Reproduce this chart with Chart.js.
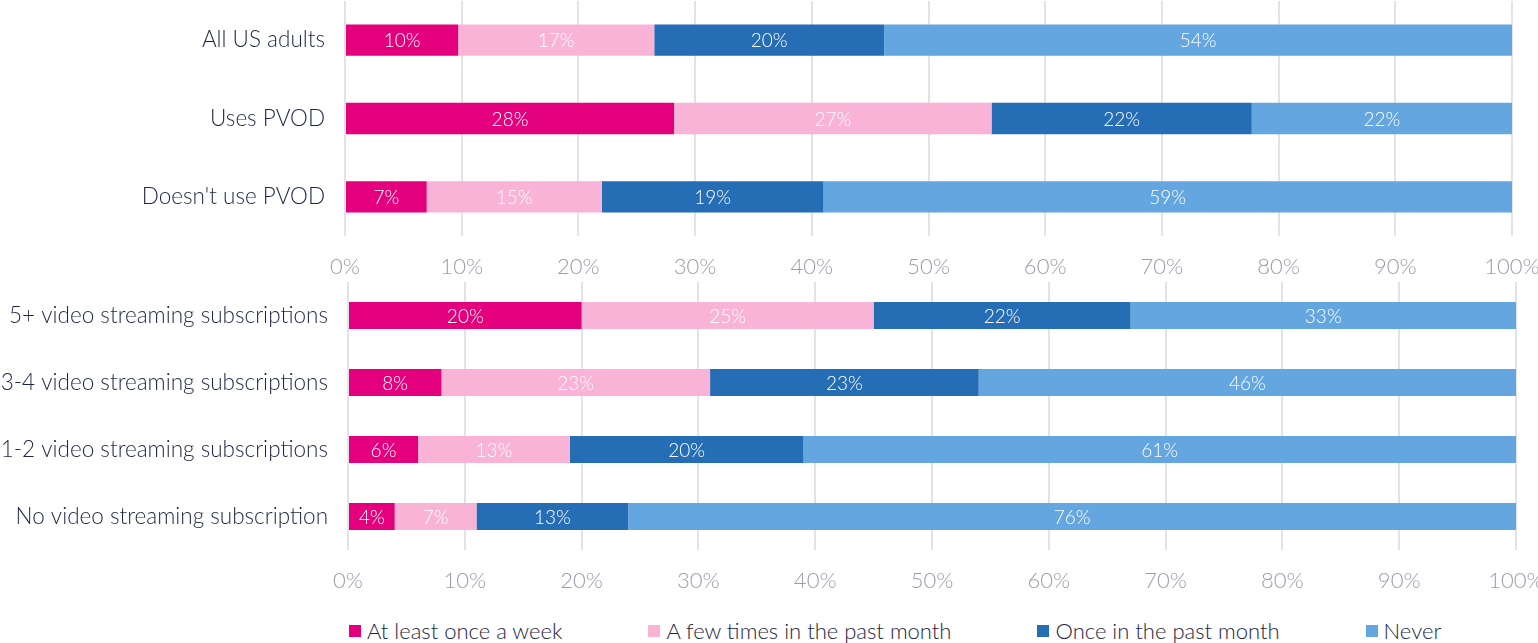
<!DOCTYPE html>
<html>
<head>
<meta charset="utf-8">
<script src="https://cdn.jsdelivr.net/npm/chart.js@4"></script>
<style>
  body { margin: 0; background: #fff; font-family: Lato, sans-serif; }
  #wrap { position: relative; width: 1538px; height: 643px; overflow: hidden; }
  #top { position: absolute; left: 0; top: 0; width: 1538px; height: 282px; }
  #bottom { position: absolute; left: 0; top: 282px; width: 1538px; height: 310px; }
  #legend { position: absolute; left: 349px; top: 617px; display: flex; gap: 86px;
            font: 300 22px Lato, sans-serif; color: #1d2644; }
  #legend .item { display: flex; align-items: center; white-space: nowrap; }
  #legend .box { width: 12px; height: 12px; margin-right: 6px; }
</style>
</head>
<body>
<div id="wrap">
  <div id="top"><canvas id="topChart"></canvas></div>
  <div id="bottom"><canvas id="bottomChart"></canvas></div>
  <div id="legend"></div>
</div>
<script>
// Series names and colours
const seriesNames = ['At least once a week', 'A few times in the past month', 'Once in the past month', 'Never'];
const seriesColors = ['#e4007c', '#f9b3d7', '#256db5', '#64a6e0'];

// Top panel: PVOD usage
const topCategories = ['All US adults', 'Uses PVOD', "Doesn't use PVOD"];
const topWeekly = [9.7, 28.2, 7];
const topFewTimes = [16.8, 27.2, 15];
const topOnce = [19.7, 22.3, 19];
const topNever = [53.8, 22.3, 59];

// Bottom panel: number of streaming subscriptions
const bottomCategories = ['5+ video streaming subscriptions', '3-4 video streaming subscriptions',
  '1-2 video streaming subscriptions', 'No video streaming subscription'];
const bottomWeekly = [20, 8, 6, 4];
const bottomFewTimes = [25, 23, 13, 7];
const bottomOnce = [22, 23, 20, 13];
const bottomNever = [33, 46, 61, 76];

const xTicks = [0, 10, 20, 30, 40, 50, 60, 70, 80, 90, 100];

// white % labels in the middle of each segment
const segmentLabels = {
  id: 'segmentLabels',
  afterDatasetsDraw(chart) {
    const ctx = chart.ctx;
    ctx.save();
    ctx.font = '300 19px Lato';
    ctx.fillStyle = '#ffffff';
    ctx.textAlign = 'center';
    ctx.textBaseline = 'middle';
    chart.data.datasets.forEach((ds, i) => {
      chart.getDatasetMeta(i).data.forEach((bar, j) => {
        const p = bar.getProps(['x', 'y', 'base'], true);
        ctx.fillText(Math.round(ds.data[j]) + '%', (p.x + p.base) / 2, p.y + 1);
      });
    });
    ctx.restore();
  }
};

function makeDatasets(values) {
  return values.map((data, i) => ({
    label: seriesNames[i],
    data: data,
    backgroundColor: seriesColors[i],
    borderWidth: 0,
    barPercentage: 0.4,
    categoryPercentage: 1
  }));
}

function makeChart(id, categories, values, opts) {
  return new Chart(document.getElementById(id), {
    type: 'bar',
    data: { labels: categories, datasets: makeDatasets(values) },
    plugins: [segmentLabels],
    options: {
      indexAxis: 'y',
      responsive: true,
      maintainAspectRatio: false,
      animation: false,
      layout: { padding: opts.padding },
      plugins: { legend: { display: false }, tooltip: { enabled: false } },
      scales: {
        x: {
          stacked: true,
          min: 0,
          max: 100,
          afterBuildTicks: s => { s.ticks = xTicks.map(v => ({ value: v })); },
          ticks: {
            callback: v => v + '%',
            color: '#9b9bae',
            font: { family: 'Lato', size: 22, weight: 300 },
            padding: 18,
            maxRotation: 0
          },
          grid: { color: '#e2e2e8', lineWidth: 2, drawTicks: false },
          border: { display: false },
          afterFit: s => {
            s.height = opts.xHeight;
            s.paddingLeft = 0;
            s.paddingRight = 0;
          }
        },
        y: {
          stacked: true,
          grid: { display: false, drawTicks: false },
          border: { display: false },
          ticks: {
            color: '#1d2644',
            font: { family: 'Lato', size: 22.5, weight: 300 },
            padding: 20
          },
          afterFit: s => {
            s.width = opts.yWidth;
            s.paddingTop = 0;
            s.paddingBottom = 0;
          }
        }
      }
    }
  });
}

makeChart('topChart', topCategories, [topWeekly, topFewTimes, topOnce, topNever],
  { padding: { top: 1, right: 26, left: 0, bottom: 0 }, xHeight: 46, yWidth: 345 });
makeChart('bottomChart', bottomCategories, [bottomWeekly, bottomFewTimes, bottomOnce, bottomNever],
  { padding: { top: 0, right: 22, left: 0, bottom: 0 }, xHeight: 42, yWidth: 348 });

// legend built from the series arrays
const legend = document.getElementById('legend');
seriesNames.forEach((name, i) => {
  const item = document.createElement('div');
  item.className = 'item';
  item.innerHTML = '<span class="box" style="background:' + seriesColors[i] + '"></span>' + name;
  legend.appendChild(item);
});
</script>
</body>
</html>
